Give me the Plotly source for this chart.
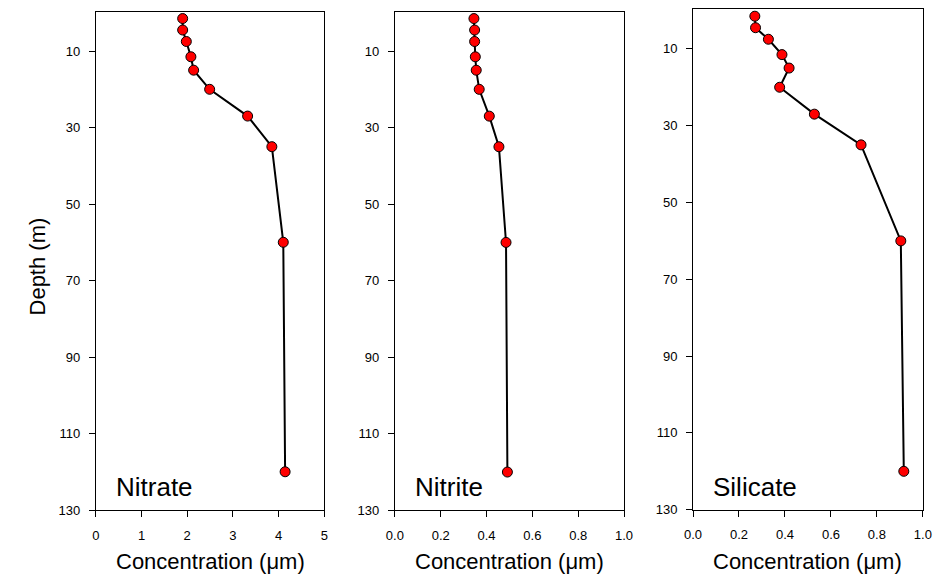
import plotly.graph_objects as go

# the page body adds an 8px margin; the figure is sized to fill the rest of the window
OFF = 8
W, H = 941 - OFF, 582 - OFF

depth = [1.5, 4.5, 7.5, 11.5, 15, 20, 27, 35, 60, 120]
nitrate = [1.90, 1.90, 1.98, 2.08, 2.14, 2.49, 3.32, 3.85, 4.10, 4.14]
nitrite = [0.345, 0.348, 0.348, 0.351, 0.355, 0.368, 0.412, 0.454, 0.485, 0.491]
silicate = [0.269, 0.272, 0.328, 0.387, 0.418, 0.377, 0.528, 0.731, 0.904, 0.917]
names = ["Nitrate", "Nitrite", "Silicate"]
y_ticks = [10, 30, 50, 70, 90, 110, 130]
x_ticks_1 = [0, 1, 2, 3, 4, 5]
x_ticks_23 = [0.0, 0.2, 0.4, 0.6, 0.8, 1.0]

series = [nitrate, nitrite, silicate]
# screen-pixel geometry of each panel: left, right, top, bottom
panels = [(88.3, 321.5, 10.7, 517.0),
          (393.3, 627.0, 10.7, 517.3),
          (697.3, 931.7, 8.3, 516.7)]


def px(xs):
    return (xs - OFF) / W


def py(ys):
    return 1 - (ys - OFF) / H


FONT = "Arial, Liberation Sans, sans-serif"
fig = go.Figure()
annotations = []
for i, (vals, (l, r, t, b)) in enumerate(zip(series, panels)):
    xa = "x" if i == 0 else f"x{i+1}"
    ya = "y" if i == 0 else f"y{i+1}"
    fig.add_trace(go.Scatter(
        x=vals, y=depth, mode="lines+markers", xaxis=xa, yaxis=ya,
        line=dict(color="black", width=2),
        marker=dict(color="#ff0000", size=10, line=dict(color="black", width=1)),
        showlegend=False))
    axis_common = dict(showline=True, mirror=True, linecolor="black", linewidth=1,
                       ticks="outside", ticklen=6, tickwidth=1, tickcolor="black",
                       showgrid=False, zeroline=False,
                       tickfont=dict(family=FONT, size=13, color="black"))
    xdom = [px(l), px(r)]
    ydom = [py(b), py(t)]
    if i == 0:
        xaxis = dict(range=[0, 5], tickvals=x_ticks_1, domain=xdom, anchor=ya,
                     ticklabelstandoff=7, **axis_common)
    else:
        xaxis = dict(range=[0, 1], tickvals=x_ticks_23, tickformat=".1f", domain=xdom,
                     anchor=ya, ticklabelstandoff=7, **axis_common)
    yaxis = dict(range=[130, -0.3], tickvals=y_ticks, domain=ydom, anchor=xa,
                 ticklabelstandoff=6, **axis_common)
    fig.update_layout(**{("xaxis" if i == 0 else f"xaxis{i+1}"): xaxis,
                         ("yaxis" if i == 0 else f"yaxis{i+1}"): yaxis})
    annotations.append(dict(text=names[i], xref="paper", yref="paper",
                            x=px(l + 18.7), y=py(494), xanchor="left", yanchor="middle",
                            showarrow=False, font=dict(family=FONT, size=26, color="black")))
    annotations.append(dict(text="Concentration (μm)", xref="paper", yref="paper",
                            x=px((l + r) / 2), y=py(569), xanchor="center", yanchor="middle",
                            showarrow=False, font=dict(family=FONT, size=22, color="black")))

annotations.append(dict(text="Depth (m)", xref="paper", yref="paper",
                        x=px(29), y=py(270), xanchor="center", yanchor="middle",
                        textangle=-90, showarrow=False,
                        font=dict(family=FONT, size=22, color="black")))

fig.update_layout(width=W, height=H, margin=dict(l=0, r=0, t=0, b=0),
                  paper_bgcolor="white", plot_bgcolor="white",
                  annotations=annotations)
fig.write_html("out.html")
